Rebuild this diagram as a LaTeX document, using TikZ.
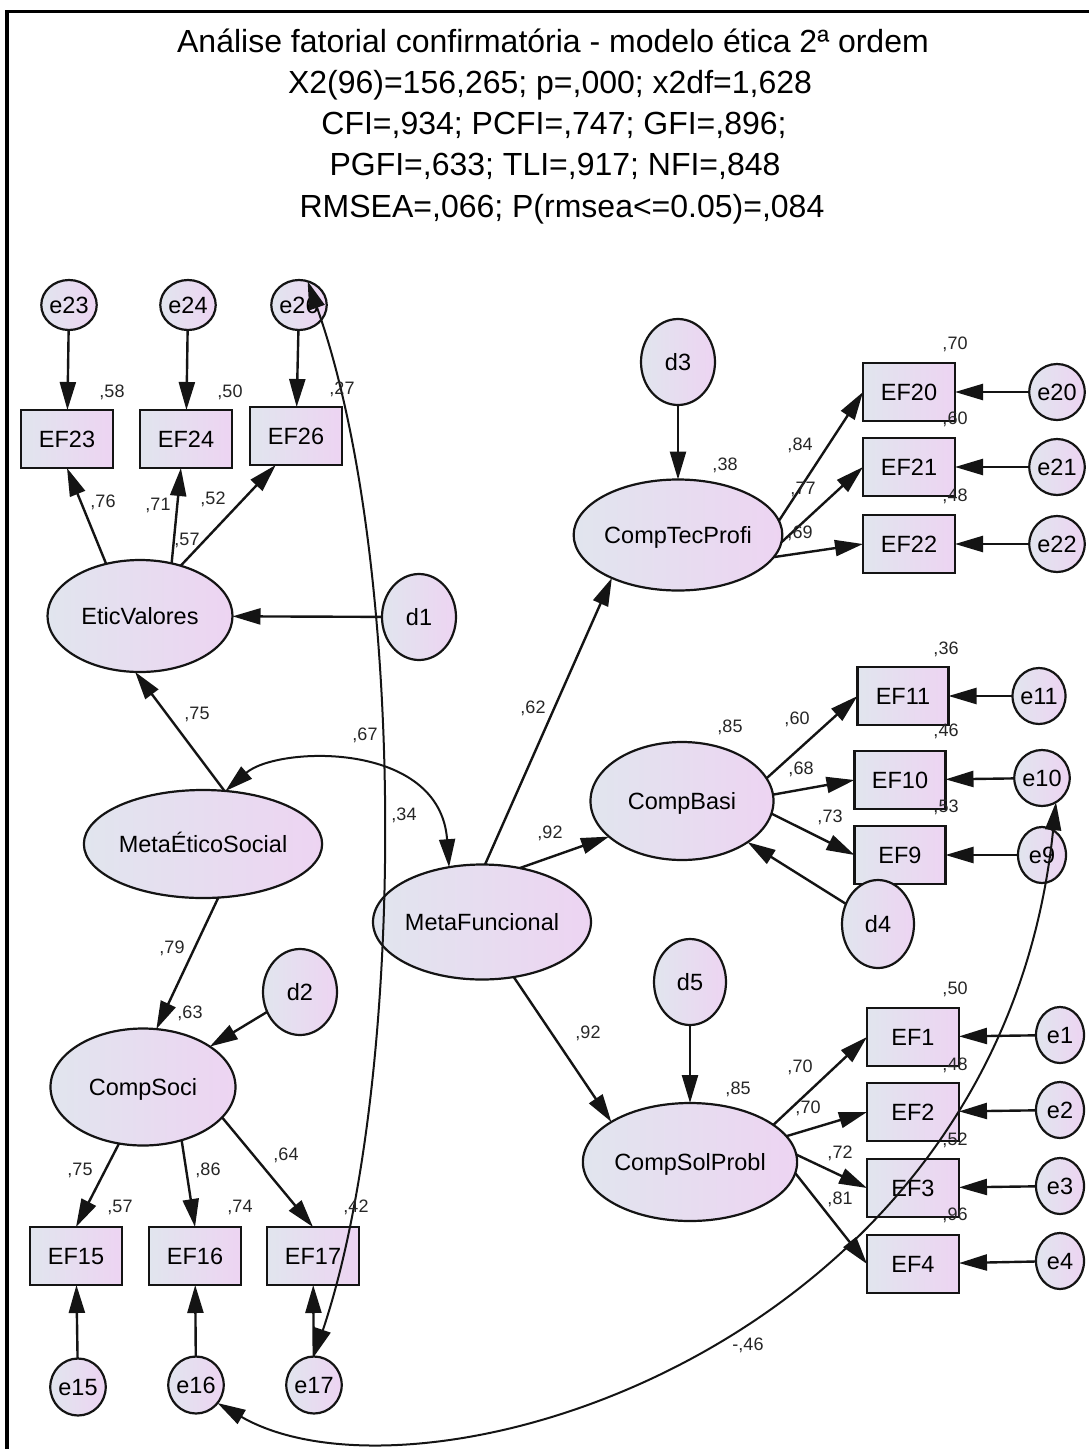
\documentclass[tikz,border=0pt]{standalone}
\usepackage{fontspec}
\setmainfont{Liberation Sans}
\usetikzlibrary{arrows.meta,shapes.geometric}
\definecolor{shadeL}{RGB}{225,229,238}
\definecolor{shadeR}{RGB}{237,212,242}
\definecolor{inkline}{RGB}{20,20,20}

\begin{document}
\begin{tikzpicture}[x=1pt,y=-1pt,
  every node/.style={inner sep=0pt,outer sep=0pt},
  grad/.style={left color=shadeL,right color=shadeR,draw=inkline,line width=2.2pt},
  nodefont/.style={font=\fontsize{23.5}{23.5}\selectfont,text height=16.8pt,text depth=0pt},
  obs/.style={grad,nodefont,rectangle,minimum width=92pt,minimum height=58pt},
  lat/.style={grad,nodefont,ellipse,minimum width=184pt,minimum height=115pt},
  err/.style={grad,nodefont,ellipse,minimum width=48pt,minimum height=56pt},
  dist/.style={grad,nodefont,ellipse,minimum width=74pt,minimum height=86pt},
  ttl/.style={font=\fontsize{32}{32}\selectfont,anchor=base},
  lbl/.style={font=\fontsize{18}{18}\selectfont,text=black!85},
  tip/.style={Triangle[length=28pt,width=16pt]},
  regr/.style={draw=inkline,line width=2.4pt,-{Triangle[length=28pt,width=16pt]}},
  cov/.style={draw=inkline,line width=2pt,{Triangle[length=28pt,width=16pt]}-{Triangle[length=28pt,width=16pt]}},
]
\useasboundingbox (0,0) rectangle (1089,1449);
\fill[white] (0,0) rectangle (1089,1449);

% frame
\draw[line width=3.5pt] (5,11.5) -- (1089,11.5);
\draw[line width=4.5pt] (7,11.5) -- (7,1449);

% fit statistics
\node[ttl] (t1) at (553,52) {Análise fatorial confirmatória - modelo ética 2ª ordem};
\node[ttl] (t2) at (550,93) {X2(96)=156,265; p=,000; x2df=1,628};
\node[ttl] (t3) at (554,134) {CFI=,934; PCFI=,747; GFI=,896;};
\node[ttl] (t4) at (555,175.5) {PGFI=,633; TLI=,917; NFI=,848};
\node[ttl] (t5) at (562,217) {RMSEA=,066; P(rmsea<=0.05)=,084};

% ---------- ethical / social block ----------
\node[err,minimum width=50pt,minimum height=50pt] (e23) at (69,305) {e23};
\node[err,minimum width=50pt,minimum height=50pt] (e24) at (188,305) {e24};
\node[err,minimum width=50pt,minimum height=50pt] (e26) at (299,305) {e26};
\node[obs] (EF23) at (67,439) {EF23};
\node[obs] (EF24) at (186,439) {EF24};
\node[obs] (EF26) at (296,436) {EF26};
\node[lat,minimum width=185pt,minimum height=112pt] (EV) at (140,616) {EticValores};
\node[dist] (d1) at (419,617) {d1};
\node[lat,minimum width=225pt,minimum height=108pt] (MES) at (203,844) {MetaÉticoSocial};
\node[lat,minimum width=185pt,minimum height=117pt] (CS) at (143,1087) {CompSoci};
\node[dist] (d2) at (300,992) {d2};
\node[obs] (EF15) at (76,1256) {EF15};
\node[obs] (EF16) at (195,1256) {EF16};
\node[obs] (EF17) at (313,1256) {EF17};
\node[err,minimum height=57pt] (e15) at (78,1387) {e15};
\node[err,minimum height=57pt] (e16) at (196,1385) {e16};
\node[err,minimum height=57pt] (e17) at (314,1385) {e17};

% ---------- functional block ----------
\node[lat,minimum width=183pt] (MF) at (482,922) {MetaFuncional};
\node[dist] (d3) at (678,362) {d3};
\node[lat,minimum width=181pt,minimum height=111pt] (CTP) at (678,535) {CompTecProfi};
\node[obs] (EF20) at (909,392) {EF20};
\node[obs] (EF21) at (909,467) {EF21};
\node[obs] (EF22) at (909,544) {EF22};
\node[err] (e20) at (1057,392) {e20};
\node[err] (e21) at (1057,467) {e21};
\node[err] (e22) at (1057,544) {e22};
\node[lat,minimum width=183pt,minimum height=118pt] (CB) at (682,801) {CompBasi};
\node[obs,minimum width=91pt] (EF11) at (903,696) {EF11};
\node[obs,minimum width=91pt] (EF10) at (900,780) {EF10};
\node[obs,minimum width=91pt] (EF9) at (900,855) {EF9};
\node[err] (e11) at (1039,696) {e11};
\node[err] (e10) at (1042,778) {e10};
\node[err] (e9) at (1042,855) {e9};
\node[dist,minimum width=72pt,minimum height=88pt] (d4) at (878,924) {d4};
\node[dist,minimum width=72pt] (d5) at (690,982) {d5};
\node[lat,minimum height=118pt] (CSP) at (690,1162) {CompSolProbl};
\node[obs] (EF1) at (913,1037) {EF1};
\node[obs] (EF2) at (913,1112) {EF2};
\node[obs] (EF3) at (913,1188) {EF3};
\node[obs] (EF4) at (913,1264) {EF4};
\node[err] (e1) at (1060,1035) {e1};
\node[err] (e2) at (1060,1110) {e2};
\node[err] (e3) at (1060,1186) {e3};
\node[err] (e4) at (1060,1261) {e4};

% ---------- regression paths ----------
\draw[regr] (e23) -- (EF23);
\draw[regr] (e24) -- (EF24);
\draw[regr] (e26) -- (EF26);
\draw[regr] (EV.123) -- (EF23.south);
\draw[regr] (EV.59) -- (EF24.-100);
\draw[regr] (EV.51) -- (EF26.-125);
\draw[regr] (d1) -- (EV);
\draw[regr] (MES.68) -- (EV.-95);
\draw[regr] (MES.-74) -- (CS.77);
\draw[regr] (d2) -- (CS);
\draw[regr] (CS.-113) -- (EF15.north);
\draw[regr] (CS.-54) -- (EF16.north);
\draw[regr] (CS.-21) -- (EF17.north);
\draw[regr] (e15) -- (EF15);
\draw[regr] (e16) -- (EF16);
\draw[regr] (e17) -- (EF17);

\draw[regr] (d3) -- (CTP);
\draw[regr] (MF.87) -- (CTP.213);
\draw[regr] (CTP.8) -- (EF20.west);
\draw[regr] (CTP.-4) -- (EF21.west);
\draw[regr] (CTP.-13) -- (EF22.west);
\draw[regr] (e20) -- (EF20);
\draw[regr] (e21) -- (EF21);
\draw[regr] (e22) -- (EF22);

\draw[regr] (MF.55) -- (CB.206);
\draw[regr] (CB.15) -- (EF11.west);
\draw[regr] (CB.4) -- (EF10.west);
\draw[regr] (CB.-8) -- (EF9.west);
\draw[regr] (d4) -- (CB);
\draw[regr] (e11) -- (EF11);
\draw[regr] (e10) -- (EF10);
\draw[regr] (e9) -- (EF9);

\draw[regr] (MF.-60) -- (CSP.153);
\draw[regr] (d5) -- (CSP);
\draw[regr] (CSP.24) -- (EF1.west);
\draw[regr] (CSP.15) -- (EF2.west);
\draw[regr] (CSP.4) -- (EF3.west);
\draw[regr] (CSP.-6) -- (EF4.west);
\draw[regr] (e1) -- (EF1);
\draw[regr] (e2) -- (EF2);
\draw[regr] (e3) -- (EF3);
\draw[regr] (e4) -- (EF4);

% ---------- covariances ----------
\draw[cov] (MES.67) .. controls (277,746) and (440,740) .. (MF.121);
\draw[cov] (e26.70) .. controls (407,560) and (407,1080) .. (e17.north);
\draw[cov] (e10.-60) .. controls (1000,1350) and (420,1520) .. (e16.-40);

% ---------- estimates ----------
\node[lbl] (r1) at (112,392) {,58};
\node[lbl] (r2) at (230,392) {,50};
\node[lbl] (r3) at (342,389) {,27};
\node[lbl] (r4) at (120,1207) {,57};
\node[lbl] (r5) at (240,1207) {,74};
\node[lbl] (r6) at (356,1207) {,42};
\node[lbl] (r7) at (955,344) {,70};
\node[lbl] (r8) at (955,419) {,60};
\node[lbl] (r9) at (955,496) {,48};
\node[lbl] (r10) at (946,649) {,36};
\node[lbl] (r11) at (946,731) {,46};
\node[lbl] (r12) at (946,807) {,53};
\node[lbl] (r13) at (955,989) {,50};
\node[lbl] (r14) at (955,1065) {,48};
\node[lbl] (r15) at (955,1140) {,52};
\node[lbl] (r16) at (955,1215) {,96};
\node[lbl] (r17) at (187,540) {,57};
\node[lbl] (r18) at (190,1013) {,63};
\node[lbl] (r19) at (725,465) {,38};
\node[lbl] (r20) at (730,727) {,85};
\node[lbl] (r21) at (738,1089) {,85};

\node[lbl] (w1) at (103,502) {,76};
\node[lbl] (w2) at (158,505) {,71};
\node[lbl] (w3) at (213,499) {,52};
\node[lbl] (w4) at (197,714) {,75};
\node[lbl] (w5) at (172,948) {,79};
\node[lbl] (w6) at (80,1170) {,75};
\node[lbl] (w7) at (208,1170) {,86};
\node[lbl] (w8) at (286,1155) {,64};
\node[lbl] (w9) at (533,708) {,62};
\node[lbl] (w10) at (550,833) {,92};
\node[lbl] (w11) at (588,1033) {,92};
\node[lbl] (w12) at (800,445) {,84};
\node[lbl] (w13) at (803,489) {,77};
\node[lbl] (w14) at (800,533) {,69};
\node[lbl] (w15) at (797,719) {,60};
\node[lbl] (w16) at (801,769) {,68};
\node[lbl] (w17) at (830,817) {,73};
\node[lbl] (w18) at (800,1067) {,70};
\node[lbl] (w19) at (808,1108) {,70};
\node[lbl] (w20) at (840,1153) {,72};
\node[lbl] (w21) at (840,1199) {,81};

\node[lbl] (c1) at (365,735) {,67};
\node[lbl] (c2) at (404,815) {,34};
\node[lbl] (c3) at (748,1345) {-,46};
\end{tikzpicture}
\end{document}
